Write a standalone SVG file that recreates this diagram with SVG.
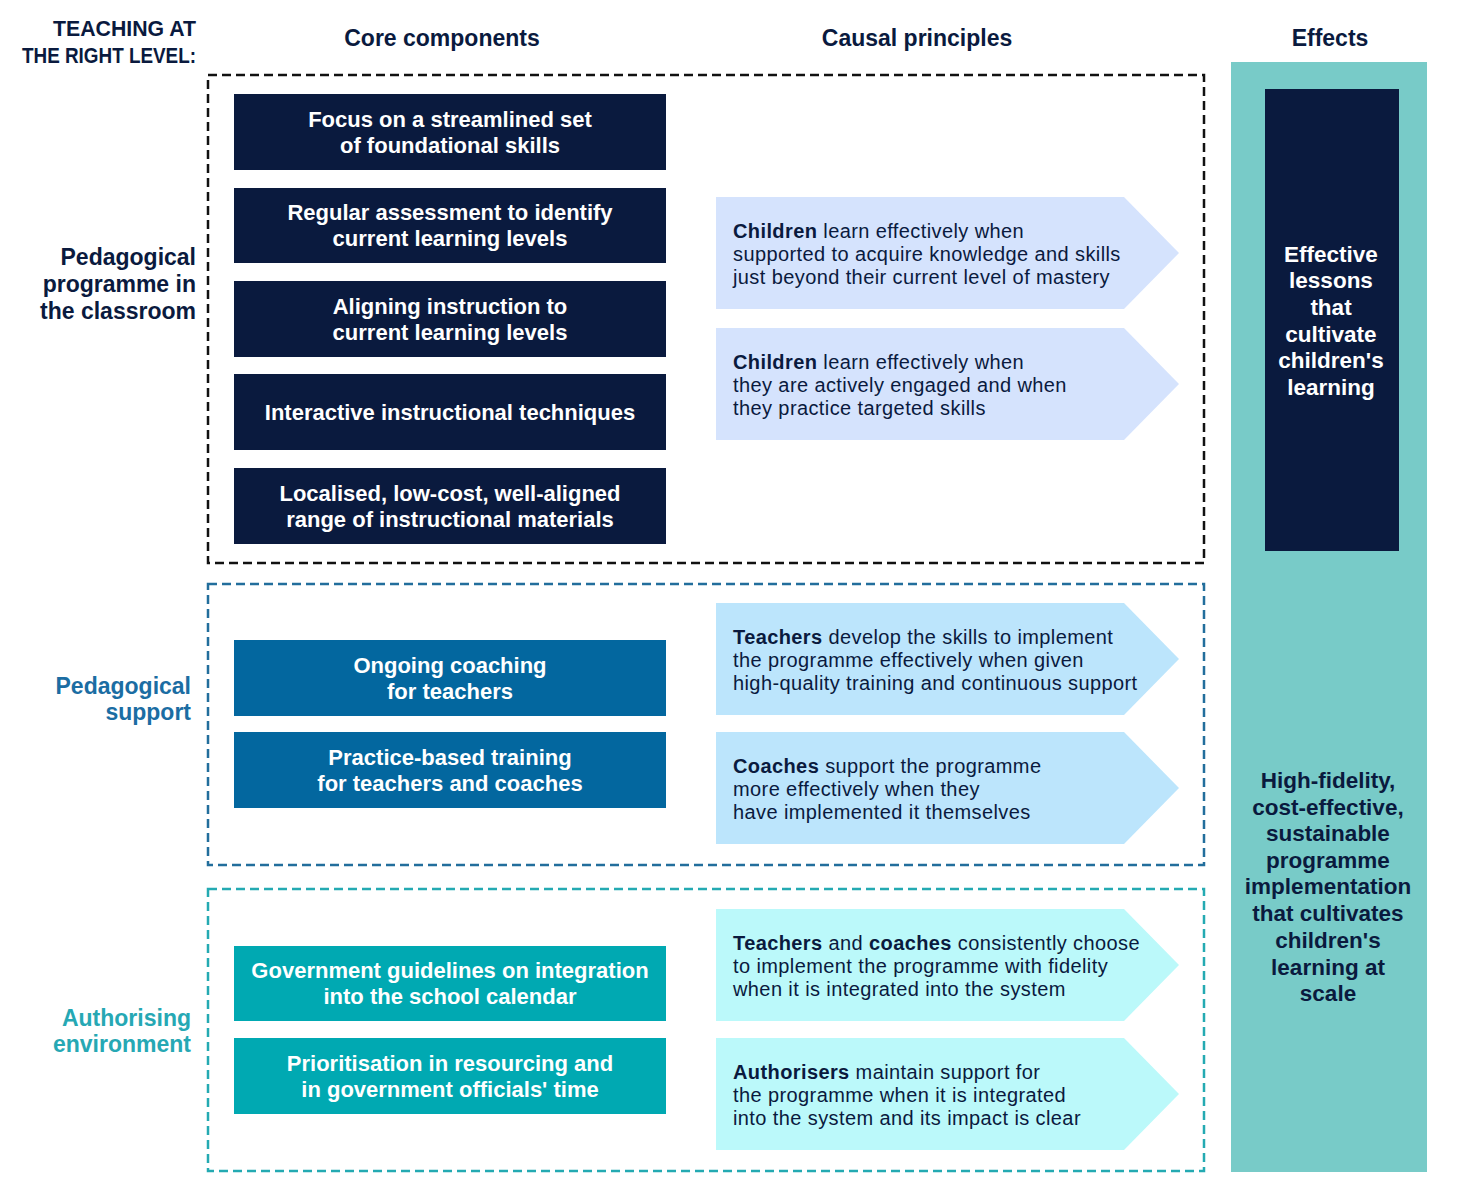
<svg xmlns="http://www.w3.org/2000/svg" width="1478" height="1200" viewBox="0 0 1478 1200">
<style>
text{font-family:"Liberation Sans",Arial,sans-serif}
.hdr{font-size:23px;font-weight:bold;fill:#0A1A3E;text-anchor:middle}
.ttl{font-size:21.5px;font-weight:bold;fill:#0A1A3E}
.lab{font-size:23px;font-weight:bold;text-anchor:end}
.box{font-size:22px;font-weight:bold;fill:#FFFFFF;text-anchor:middle}
.arr{font-size:20px;letter-spacing:0.4px;fill:#0A1A3E}
.arr tspan.b{font-weight:bold}
.eff{font-size:22.5px;font-weight:bold;text-anchor:middle}
.navy{fill:#0A1A3E}
.blue{fill:#03679F}
.teal{fill:#00A9B2}
.a1{fill:#D5E3FD}
.a2{fill:#BCE5FC}
.a3{fill:#BBF9FA}
.dash{fill:none;stroke-width:2.5;stroke-dasharray:9 5}
</style>

<g id="titles">
<text class="ttl" x="53" y="36" textLength="143" lengthAdjust="spacingAndGlyphs">TEACHING AT</text>
<text class="ttl" x="22" y="63" textLength="174" lengthAdjust="spacingAndGlyphs">THE RIGHT LEVEL:</text>
<text class="hdr" x="442" y="46">Core components</text>
<text class="hdr" x="917" y="46">Causal principles</text>
<text class="hdr" x="1330" y="46">Effects</text>
</g>

<g id="effects-column">
<rect x="1231" y="62" width="196" height="1110" fill="#78CBC8"/>
<rect x="1265" y="89" width="134" height="462" class="navy"/>
<text class="eff" fill="#FFFFFF" x="1331" y="262">Effective</text>
<text class="eff" fill="#FFFFFF" x="1331" y="288">lessons</text>
<text class="eff" fill="#FFFFFF" x="1331" y="315">that</text>
<text class="eff" fill="#FFFFFF" x="1331" y="342">cultivate</text>
<text class="eff" fill="#FFFFFF" x="1331" y="368">children's</text>
<text class="eff" fill="#FFFFFF" x="1331" y="395">learning</text>
<g fill="#0A1A3E">
<text class="eff" x="1328" y="788">High-fidelity,</text>
<text class="eff" x="1328" y="815">cost-effective,</text>
<text class="eff" x="1328" y="841">sustainable</text>
<text class="eff" x="1328" y="868">programme</text>
<text class="eff" x="1328" y="894">implementation</text>
<text class="eff" x="1328" y="921">that cultivates</text>
<text class="eff" x="1328" y="948">children's</text>
<text class="eff" x="1328" y="975">learning at</text>
<text class="eff" x="1328" y="1001">scale</text>
</g>
</g>

<g id="section-classroom">
<rect class="dash" x="208" y="75" width="996" height="488" stroke="#111111"/>
<text class="lab" fill="#0A1A3E" x="196" y="265">Pedagogical</text>
<text class="lab" fill="#0A1A3E" x="196" y="292">programme in</text>
<text class="lab" fill="#0A1A3E" x="196" y="319">the classroom</text>
</g>
<g id="c1"><rect class="navy" x="234" y="94" width="432" height="76"/>
<text class="box" x="450" y="127">Focus on a streamlined set</text>
<text class="box" x="450" y="153">of foundational skills</text></g>
<g id="c2"><rect class="navy" x="234" y="188" width="432" height="75"/>
<text class="box" x="450" y="220">Regular assessment to identify</text>
<text class="box" x="450" y="246">current learning levels</text></g>
<g id="c3"><rect class="navy" x="234" y="281" width="432" height="76"/>
<text class="box" x="450" y="314">Aligning instruction to</text>
<text class="box" x="450" y="340">current learning levels</text></g>
<g id="c4"><rect class="navy" x="234" y="374" width="432" height="76"/>
<text class="box" x="450" y="420">Interactive instructional techniques</text></g>
<g id="c5"><rect class="navy" x="234" y="468" width="432" height="76"/>
<text class="box" x="450" y="501">Localised, low-cost, well-aligned</text>
<text class="box" x="450" y="527">range of instructional materials</text></g>
<g id="p1"><path class="a1" d="M716,197H1124L1179,253L1124,309H716Z"/>
<text class="arr" x="733" y="238"><tspan class="b">Children</tspan> learn effectively when</text>
<text class="arr" x="733" y="261">supported to acquire knowledge and skills</text>
<text class="arr" x="733" y="284">just beyond their current level of mastery</text></g>
<g id="p2"><path class="a1" d="M716,328H1124L1179,384L1124,440H716Z"/>
<text class="arr" x="733" y="369"><tspan class="b">Children</tspan> learn effectively when</text>
<text class="arr" x="733" y="392">they are actively engaged and when</text>
<text class="arr" x="733" y="415">they practice targeted skills</text></g>

<g id="section-support">
<rect class="dash" x="208" y="584" width="996" height="281" stroke="#226E9C"/>
<text class="lab" fill="#1B6DA3" x="191" y="694">Pedagogical</text>
<text class="lab" fill="#1B6DA3" x="191" y="720">support</text>
</g>
<g id="c6"><rect class="blue" x="234" y="640" width="432" height="76"/>
<text class="box" x="450" y="673">Ongoing coaching</text>
<text class="box" x="450" y="699">for teachers</text></g>
<g id="c7"><rect class="blue" x="234" y="732" width="432" height="76"/>
<text class="box" x="450" y="765">Practice-based training</text>
<text class="box" x="450" y="791">for teachers and coaches</text></g>
<g id="p3"><path class="a2" d="M716,603H1124L1179,659L1124,715H716Z"/>
<text class="arr" x="733" y="644"><tspan class="b">Teachers</tspan> develop the skills to implement</text>
<text class="arr" x="733" y="667">the programme effectively when given</text>
<text class="arr" x="733" y="690">high-quality training and continuous support</text></g>
<g id="p4"><path class="a2" d="M716,732H1124L1179,788L1124,844H716Z"/>
<text class="arr" x="733" y="773"><tspan class="b">Coaches</tspan> support the programme</text>
<text class="arr" x="733" y="796">more effectively when they</text>
<text class="arr" x="733" y="819">have implemented it themselves</text></g>

<g id="section-authorising">
<rect class="dash" x="208" y="889" width="996" height="282" stroke="#24AAB2"/>
<text class="lab" fill="#26A8B4" x="191" y="1026">Authorising</text>
<text class="lab" fill="#26A8B4" x="191" y="1052">environment</text>
</g>
<g id="c8"><rect class="teal" x="234" y="946" width="432" height="75"/>
<text class="box" x="450" y="978">Government guidelines on integration</text>
<text class="box" x="450" y="1004">into the school calendar</text></g>
<g id="c9"><rect class="teal" x="234" y="1038" width="432" height="76"/>
<text class="box" x="450" y="1071">Prioritisation in resourcing and</text>
<text class="box" x="450" y="1097">in government officials' time</text></g>
<g id="p5"><path class="a3" d="M716,909H1124L1179,965L1124,1021H716Z"/>
<text class="arr" x="733" y="950"><tspan class="b">Teachers</tspan> and <tspan class="b">coaches</tspan> consistently choose</text>
<text class="arr" x="733" y="973">to implement the programme with fidelity</text>
<text class="arr" x="733" y="996">when it is integrated into the system</text></g>
<g id="p6"><path class="a3" d="M716,1038H1124L1179,1094L1124,1150H716Z"/>
<text class="arr" x="733" y="1079"><tspan class="b">Authorisers</tspan> maintain support for</text>
<text class="arr" x="733" y="1102">the programme when it is integrated</text>
<text class="arr" x="733" y="1125">into the system and its impact is clear</text></g>

<g id="connectors"></g>
</svg>
